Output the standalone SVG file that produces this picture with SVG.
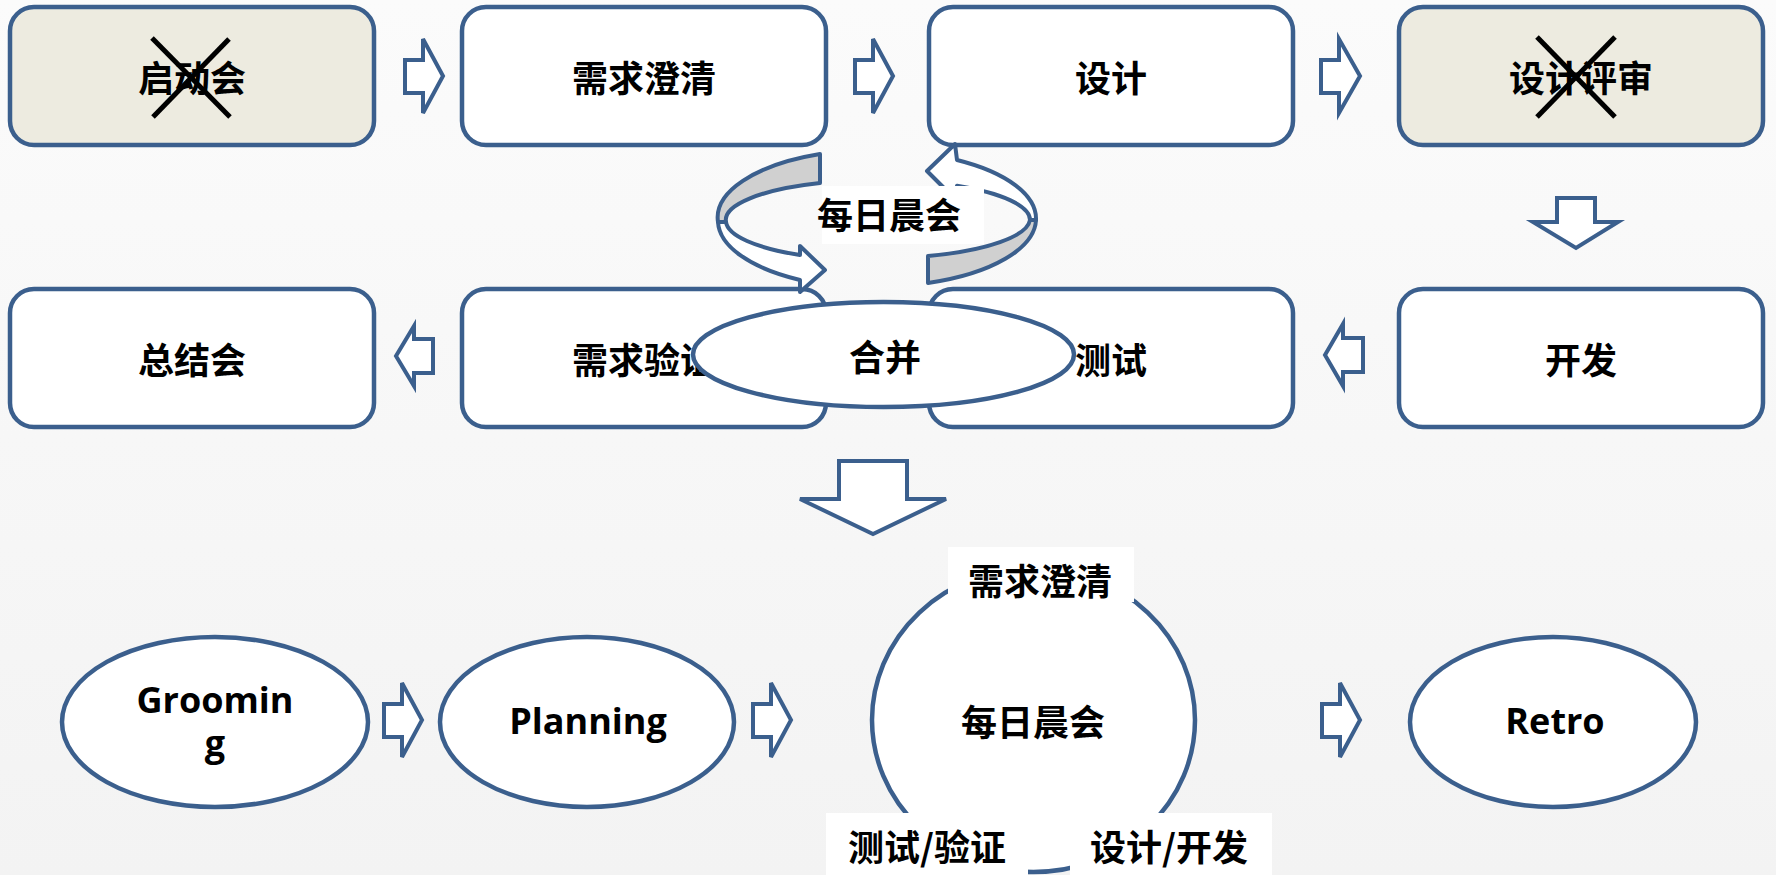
<svg xmlns="http://www.w3.org/2000/svg" width="1776" height="875" viewBox="0 0 1776 875">
<defs>
<linearGradient id="bg" x1="0" y1="0" x2="0" y2="1">
<stop offset="0" stop-color="#FBFBFB"/>
<stop offset="1" stop-color="#F3F3F3"/>
</linearGradient>
<style>
.box{fill:#FFFFFF;stroke:#3B5F8D;stroke-width:4.5}
.boxx{fill:#EDEBE0;stroke:#3B5F8D;stroke-width:4.5}
.ell{fill:#FFFFFF;stroke:#3B5F8D;stroke-width:4.5}
.arr{fill:#FFFFFF;stroke:#3B5F8D;stroke-width:4;stroke-linejoin:miter}
.ring{stroke:#3B5F8D;stroke-width:4;stroke-linejoin:round}
.t{font-family:"Noto Sans CJK SC","Noto Sans",sans-serif;font-weight:700;font-size:36px;fill:#000;text-anchor:middle;dominant-baseline:central}
.l{font-family:"Open Sans","Noto Sans",sans-serif;font-weight:700;font-size:36px;fill:#000;text-anchor:middle}
.x{stroke:#000;stroke-width:5}
.lab{fill:#FFFFFF}
</style>
</defs>
<rect x="0" y="0" width="1776" height="875" fill="url(#bg)"/>

<g id="node-qidonghui">
<rect class="boxx" x="10" y="7" width="364" height="138" rx="24"/>
<text class="t" x="192" y="76">启动会</text>
<line class="x" x1="152" y1="38" x2="230" y2="117"/>
<line class="x" x1="229" y1="39" x2="153" y2="117"/>
</g>
<g id="node-xuqiuchengqing">
<rect class="box" x="462" y="7" width="364" height="138" rx="24"/>
<text class="t" x="644" y="76">需求澄清</text>
</g>
<g id="node-sheji">
<rect class="box" x="929" y="7" width="364" height="138" rx="24"/>
<text class="t" x="1111" y="76">设计</text>
</g>
<g id="node-shejipingshen">
<rect class="boxx" x="1399" y="7" width="364" height="138" rx="24"/>
<text class="t" x="1581" y="76">设计评审</text>
<line class="x" x1="1537" y1="37" x2="1615" y2="117"/>
<line class="x" x1="1615" y1="37" x2="1537" y2="117"/>
</g>
<g id="node-zongjiehui">
<rect class="box" x="10" y="289" width="364" height="138" rx="24"/>
<text class="t" x="192" y="358">总结会</text>
</g>
<g id="node-xuqiuyanzheng">
<rect class="box" x="462" y="289" width="364" height="138" rx="24"/>
<text class="t" x="644" y="358">需求验证</text>
</g>
<g id="node-ceshi">
<rect class="box" x="929" y="289" width="364" height="138" rx="24"/>
<text class="t" x="1111" y="358">测试</text>
</g>
<g id="node-kaifa">
<rect class="box" x="1399" y="289" width="364" height="138" rx="24"/>
<text class="t" x="1581" y="358">开发</text>
</g>

<g id="connectors">
<polygon class="arr" points="405,60 423,60 423,39 443,76 423,113 423,93 405,93"/>
<polygon class="arr" points="855,60 873,60 873,39 893,76 873,113 873,93 855,93"/>
<polygon class="arr" points="1321,60 1339,60 1339,39 1360,76 1339,113 1339,93 1321,93"/>
<polygon class="arr" points="1557,198 1595,198 1595,222 1618,222 1576,248 1533,222 1557,222"/>
<polygon class="arr" points="1363,338 1343,338 1343,324 1325,355 1343,386 1343,372 1363,372"/>
<polygon class="arr" points="433,339 414,339 414,326 396,356 414,386 414,373 433,373"/>
<polygon class="arr" points="839,461 907,461 907,499 946,499 873,534 800,499 839,499"/>
<polygon class="arr" points="384,704 402,704 402,683 422,720 402,757 402,737 384,737"/>
<polygon class="arr" points="753,704 771,704 771,683 791,720 771,757 771,737 753,737"/>
<polygon class="arr" points="1322,704 1340,704 1340,683 1360,720 1340,757 1340,737 1322,737"/>
</g>

<g id="node-meirichenhui-loop">
<path class="ring" fill="#D0D0D0" d="M820,154 A159,68 0 0 0 718,222 L726,222 A152,40 0 0 1 820,183 Z"/>
<path class="ring" fill="#FFFFFF" d="M718,222 A159,68 0 0 0 800,280 L800,292 L825,270 L800,246 L800,255 A152,40 0 0 1 726,222 Z"/>
<path class="ring" fill="#D0D0D0" d="M928,256 A152,40 0 0 0 1030,220 L1036,220 A159,68 0 0 1 928,283 Z"/>
<path class="ring" fill="#FFFFFF" d="M1036,220 A159,68 0 0 0 957,160 L955,144 L927,171 L955,199 L957,185.8 A152,40 0 0 1 1030,220 Z"/>
<rect class="lab" x="822" y="186" width="162" height="58"/>
<text class="t" x="889" y="213">每日晨会</text>
</g>

<g id="node-hebing">
<ellipse class="ell" cx="883.5" cy="354.5" rx="190.5" ry="52.5"/>
<text class="t" x="885" y="355">合并</text>
</g>

<g id="node-grooming">
<ellipse class="ell" cx="215" cy="722" rx="153" ry="85"/>
<text class="l" x="215" y="713"><tspan x="215" y="713">Groomin</tspan><tspan x="215" y="756">g</tspan></text>
</g>
<g id="node-planning">
<ellipse class="ell" cx="587" cy="722" rx="147" ry="85"/>
<text class="l" x="588" y="734">Planning</text>
</g>
<g id="node-daily">
<ellipse class="ell" cx="1033.5" cy="720" rx="161.5" ry="152"/>
<text class="t" x="1033" y="720">每日晨会</text>
<rect class="lab" x="948" y="547" width="186" height="55"/>
<text class="t" x="1040" y="579">需求澄清</text>
<rect class="lab" x="826" y="813" width="202" height="62"/>
<text class="t" x="927" y="845">测试/验证</text>
<rect class="lab" x="1070" y="813" width="202" height="62"/>
<text class="t" x="1169" y="845">设计/开发</text>
</g>
<g id="node-retro">
<ellipse class="ell" cx="1553" cy="722" rx="143" ry="85"/>
<text class="l" x="1555" y="734">Retro</text>
</g>
</svg>
